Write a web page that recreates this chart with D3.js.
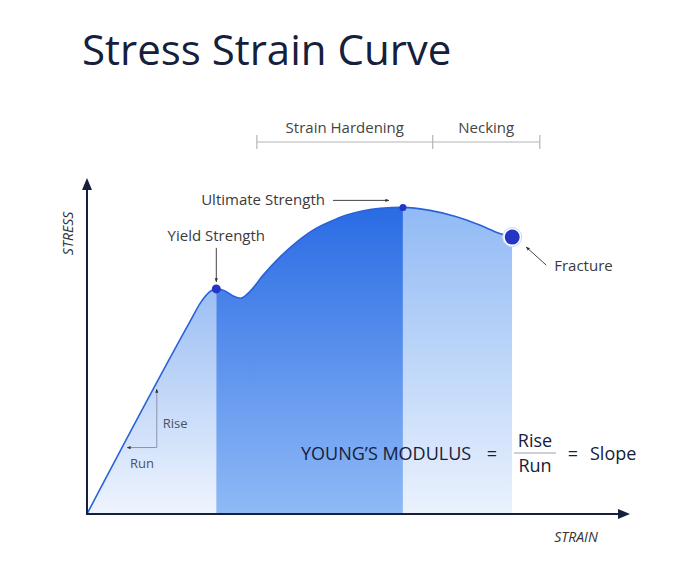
<!DOCTYPE html>
<html>
<head>
<meta charset="utf-8">
<script src="https://cdn.jsdelivr.net/npm/d3@7"></script>
<style>
  body { margin: 0; background: #fff; }
  text { font-family: "Open Sans", "Noto Sans", sans-serif; }
</style>
</head>
<body>
<div id="chart"></div>
<script>
// curve (strain / stress in arbitrary units, 0-100)
const strain = [0, 19, 21, 22.5, 23.9, 25.5, 27, 28.4, 30.1, 32.6, 35.7, 38.8, 41.8, 44.9, 48, 51.1, 54.2, 58.4, 63.4, 68.3, 72.6, 76.3, 78.6];
const stress = [0, 57.5, 63.3, 66.3, 67.4, 66.8, 65.3, 64.6, 66.6, 71.6, 77.0, 81.5, 85.0, 87.5, 89.5, 90.8, 91.5, 91.8, 90.9, 89.0, 86.5, 84.0, 82.9];

// region boundaries (yield, ultimate, fracture)
const regionNames = ["elastic", "hardening", "necking"];
const regionStart = [0, 23.9, 58.4];
const regionEnd = [23.9, 58.4, 78.6];

// key points
const pointNames = ["Yield Strength", "Ultimate Strength", "Fracture"];
const pointStrain = [23.9, 58.4, 78.6];
const pointStress = [67.4, 91.8, 82.9];

// brackets on top
const bracketLabels = ["Strain Hardening", "Necking"];
const bracketStops = [31.4, 63.9, 83.7];

// rise / run helper triangle
const runFrom = 7.4, riseAt = 12.9, runStress = 19.9, riseTo = 37.4;

const width = 700, height = 566;
const navy = "#16203d";

const svg = d3.select("#chart").append("svg")
    .attr("width", width)
    .attr("height", height);

const x = d3.scaleLinear().domain([0, 100]).range([87, 628]);
const y = d3.scaleLinear().domain([0, 100]).range([514, 180]);

const data = strain.map((s, i) => ({strain: s, stress: stress[i]}));

const defs = svg.append("defs");

// gradients for the three regions
const gradColors = {
    elastic: ["#7eabf0", "#eef4fe"],
    hardening: ["#2a6be4", "#8fbaf6"],
    necking: ["#90baf5", "#ebf2fd"]
};
regionNames.forEach((name, i) => {
    let g = defs.append("linearGradient")
        .attr("id", "grad-" + name)
        .attr("gradientUnits", "userSpaceOnUse")
        .attr("x1", 0).attr("x2", 0)
        .attr("y1", y(92)).attr("y2", y(0));
    g.append("stop").attr("offset", 0).attr("stop-color", gradColors[name][0]);
    g.append("stop").attr("offset", 1).attr("stop-color", gradColors[name][1]);

    defs.append("clipPath")
        .attr("id", "clip-" + name)
        .append("rect")
        .attr("x", x(regionStart[i]))
        .attr("width", x(regionEnd[i]) - x(regionStart[i]))
        .attr("y", 0)
        .attr("height", y(0));
});

// small arrowhead marker
defs.append("marker")
    .attr("id", "tip")
    .attr("viewBox", "0 0 10 10")
    .attr("refX", 9).attr("refY", 5)
    .attr("markerWidth", 4).attr("markerHeight", 4)
    .attr("orient", "auto-start-reverse")
    .append("path")
    .attr("d", "M0,1 L10,5 L0,9 Z")
    .attr("fill", "#333");

const area = d3.area()
    .x(d => x(d.strain))
    .y0(y(0))
    .y1(d => y(d.stress))
    .curve(d3.curveMonotoneX);

const line = d3.line()
    .x(d => x(d.strain))
    .y(d => y(d.stress))
    .curve(d3.curveMonotoneX);

svg.selectAll(".region")
    .data(regionNames)
    .enter().append("path")
    .attr("class", "region")
    .attr("d", area(data))
    .attr("clip-path", d => `url(#clip-${d})`)
    .attr("fill", d => `url(#grad-${d})`);

svg.append("path")
    .attr("d", line(data))
    .attr("fill", "none")
    .attr("stroke", "#2a62d8")
    .attr("stroke-width", 1.6);

// axes
svg.append("line")
    .attr("x1", x(0)).attr("x2", x(0))
    .attr("y1", y(0)).attr("y2", y(100) + 6)
    .attr("stroke", navy).attr("stroke-width", 2);
svg.append("path")
    .attr("d", `M${x(0) - 5},${y(100) + 10} L${x(0)},${y(100) - 2} L${x(0) + 5},${y(100) + 10} Z`)
    .attr("fill", navy);
svg.append("line")
    .attr("x1", x(0) - 1).attr("x2", x(100) - 6)
    .attr("y1", y(0)).attr("y2", y(0))
    .attr("stroke", navy).attr("stroke-width", 2);
svg.append("path")
    .attr("d", `M${x(100) - 10},${y(0) - 5} L${x(100) + 2},${y(0)} L${x(100) - 10},${y(0) + 5} Z`)
    .attr("fill", navy);

svg.append("text")
    .attr("transform", `translate(73, ${y(84)}) rotate(-90)`)
    .attr("text-anchor", "middle")
    .attr("font-size", 14)
    .attr("font-style", "italic")
    .attr("fill", "#333")
    .text("STRESS");
svg.append("text")
    .attr("x", 576).attr("y", 542)
    .attr("text-anchor", "middle")
    .attr("font-size", 14)
    .attr("font-style", "italic")
    .attr("fill", "#333")
    .text("STRAIN");

// title
svg.append("text")
    .attr("x", 82).attr("y", 65)
    .attr("font-size", 42)
    .attr("fill", navy)
    .text("Stress Strain Curve");

// key point dots
svg.append("circle")
    .attr("cx", x(pointStrain[2])).attr("cy", y(pointStress[2]))
    .attr("r", 9.5)
    .attr("fill", "#fff")
    .attr("stroke", "#c9d7f3").attr("stroke-width", 1);
svg.selectAll(".dot")
    .data(pointNames)
    .enter().append("circle")
    .attr("class", "dot")
    .attr("cx", (d, i) => x(pointStrain[i]))
    .attr("cy", (d, i) => y(pointStress[i]))
    .attr("r", (d, i) => [4.5, 3.5, 7.5][i])
    .attr("fill", "#2336c4");

// annotations
const annoColor = "#3a3a3a";
const yx = x(pointStrain[0]), yy = y(pointStress[0]);
svg.append("text")
    .attr("x", yx).attr("y", yy - 48)
    .attr("text-anchor", "middle")
    .attr("font-size", 15)
    .attr("fill", annoColor)
    .text(pointNames[0]);
svg.append("line")
    .attr("x1", yx).attr("x2", yx)
    .attr("y1", yy - 41).attr("y2", yy - 7)
    .attr("stroke", "#444").attr("stroke-width", 1)
    .attr("marker-end", "url(#tip)");

const ux = x(pointStrain[1]), uy = y(pointStress[1]);
svg.append("text")
    .attr("x", ux - 78).attr("y", uy - 2)
    .attr("text-anchor", "end")
    .attr("font-size", 15)
    .attr("fill", annoColor)
    .text(pointNames[1]);
svg.append("line")
    .attr("x1", ux - 70).attr("x2", ux - 14)
    .attr("y1", uy - 7).attr("y2", uy - 7)
    .attr("stroke", "#444").attr("stroke-width", 1)
    .attr("marker-end", "url(#tip)");

const fx = x(pointStrain[2]), fy = y(pointStress[2]);
svg.append("text")
    .attr("x", fx + 42).attr("y", fy + 34)
    .attr("font-size", 15)
    .attr("fill", annoColor)
    .text(pointNames[2]);
svg.append("line")
    .attr("x1", fx + 34).attr("x2", fx + 14)
    .attr("y1", fy + 28).attr("y2", fy + 10)
    .attr("stroke", "#444").attr("stroke-width", 1)
    .attr("marker-end", "url(#tip)");

// brackets
const bracketY = 142;
svg.append("line")
    .attr("x1", x(bracketStops[0])).attr("x2", x(bracketStops[2]))
    .attr("y1", bracketY).attr("y2", bracketY)
    .attr("stroke", "#b4b4b4").attr("stroke-width", 1.2);
svg.selectAll(".btick")
    .data(bracketStops)
    .enter().append("line")
    .attr("class", "btick")
    .attr("x1", d => x(d)).attr("x2", d => x(d))
    .attr("y1", bracketY - 7).attr("y2", bracketY + 7)
    .attr("stroke", "#b4b4b4").attr("stroke-width", 1.2);
svg.selectAll(".blabel")
    .data(bracketLabels)
    .enter().append("text")
    .attr("class", "blabel")
    .attr("x", (d, i) => (x(bracketStops[i]) + x(bracketStops[i + 1])) / 2)
    .attr("y", bracketY - 9)
    .attr("text-anchor", "middle")
    .attr("font-size", 15)
    .attr("fill", "#444")
    .text(d => d);

// rise / run triangle
svg.append("line")
    .attr("x1", x(riseAt)).attr("x2", x(riseAt))
    .attr("y1", y(runStress)).attr("y2", y(riseTo))
    .attr("stroke", "#8a94a6").attr("stroke-width", 1)
    .attr("marker-end", "url(#tip)");
svg.append("line")
    .attr("x1", x(riseAt)).attr("x2", x(runFrom))
    .attr("y1", y(runStress)).attr("y2", y(runStress))
    .attr("stroke", "#8a94a6").attr("stroke-width", 1)
    .attr("marker-end", "url(#tip)");
svg.append("text")
    .attr("x", x(riseAt) + 6).attr("y", (y(runStress) + y(riseTo)) / 2 + 10)
    .attr("font-size", 13)
    .attr("fill", "#4a5366")
    .text("Rise");
svg.append("text")
    .attr("x", (x(riseAt) + x(runFrom)) / 2).attr("y", y(runStress) + 20)
    .attr("text-anchor", "middle")
    .attr("font-size", 13)
    .attr("fill", "#4a5366")
    .text("Run");

// young's modulus formula
const fy0 = 460;
svg.append("text")
    .attr("x", 301).attr("y", fy0)
    .attr("font-size", 18)
    .attr("fill", navy)
    .text("YOUNG\u2019S MODULUS");
svg.append("text")
    .attr("x", 492).attr("y", fy0)
    .attr("text-anchor", "middle")
    .attr("font-size", 18)
    .attr("fill", navy)
    .text("=");
svg.append("text")
    .attr("x", 535).attr("y", 447)
    .attr("text-anchor", "middle")
    .attr("font-size", 18)
    .attr("fill", navy)
    .text("Rise");
svg.append("line")
    .attr("x1", 514).attr("x2", 556)
    .attr("y1", 453).attr("y2", 453)
    .attr("stroke", "#9aa0ab").attr("stroke-width", 1);
svg.append("text")
    .attr("x", 535).attr("y", 472)
    .attr("text-anchor", "middle")
    .attr("font-size", 18)
    .attr("fill", navy)
    .text("Run");
svg.append("text")
    .attr("x", 573).attr("y", fy0)
    .attr("text-anchor", "middle")
    .attr("font-size", 18)
    .attr("fill", navy)
    .text("=");
svg.append("text")
    .attr("x", 590).attr("y", fy0)
    .attr("font-size", 18)
    .attr("fill", navy)
    .text("Slope");
</script>
</body>
</html>
